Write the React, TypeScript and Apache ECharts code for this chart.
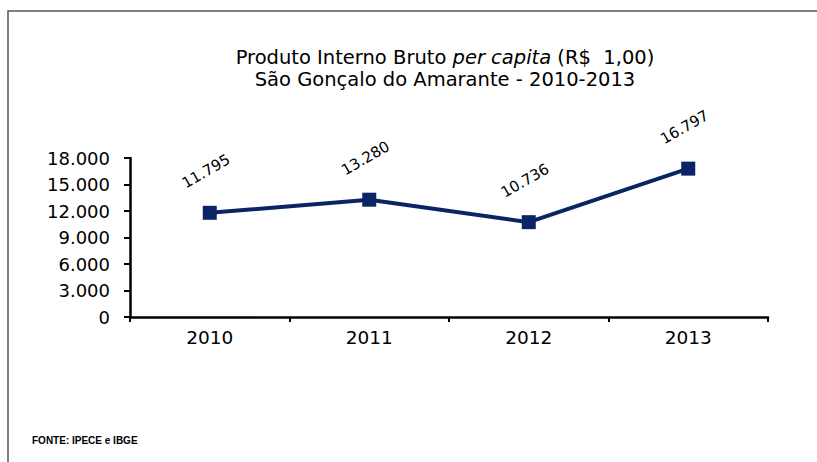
import React, { useEffect, useRef } from "react";
import * as echarts from "echarts";

const years = ["2010", "2011", "2012", "2013"];
const pibPerCapita = [11795, 13280, 10736, 16797];
const yTicks = { min: 0, max: 18000, interval: 3000 };

const fmt = (v: number) => {
  const s = Math.round(v).toString();
  return s.replace(/\B(?=(\d{3})+(?!\d))/g, ".");
};

export default function App() {
  const ref = useRef<HTMLDivElement>(null);
  useEffect(() => {
    document.body.style.margin = "0";
    const chart = echarts.init(ref.current!, null, { renderer: "svg" });
    const font = "'DejaVu Sans', Arial, sans-serif";
    chart.setOption({
      animation: false,
      backgroundColor: "#ffffff",
      title: {
        left: 440,
        top: 41,
        textAlign: "center",
        text: "{n|Produto Interno Bruto }{i|per capita}{n| (R$  1,00)}\n{n|São Gonçalo do Amarante - 2010-2013}",
        textStyle: {
          fontWeight: "normal",
          rich: {
            n: { fontFamily: font, fontSize: 19.5, fontWeight: "normal", color: "#000", lineHeight: 22 },
            i: { fontFamily: font, fontSize: 19.5, fontWeight: "normal", color: "#000", fontStyle: "italic", lineHeight: 22 },
          },
        },
      },
      graphic: [
        {
          type: "polyline",
          shape: { points: [[8, 470], [8, 11], [830, 11]] },
          style: { stroke: "#555555", lineWidth: 1.5, fill: "none" },
        },
        {
          type: "text",
          left: 32,
          top: 435,
          style: {
            text: "FONTE: IPECE e IBGE",
            font: "bold 10px 'Liberation Sans', Arial, sans-serif",
            fill: "#000",
          },
        },
      ],
      grid: { left: 130, right: 49, top: 158, bottom: 145, containLabel: false },
      xAxis: {
        type: "category",
        data: years,
        boundaryGap: true,
        axisLine: { lineStyle: { color: "#000", width: 2.5 } },
        axisTick: { show: true, length: 5, lineStyle: { color: "#000", width: 2 } },
        axisLabel: { color: "#000", fontSize: 18.5, fontFamily: font, margin: 11 },
      },
      yAxis: {
        type: "value",
        min: yTicks.min,
        max: yTicks.max,
        interval: yTicks.interval,
        splitLine: { show: false },
        axisLine: { show: true, lineStyle: { color: "#000", width: 2.5 } },
        axisTick: { show: true, length: 6, lineStyle: { color: "#000", width: 2 } },
        axisLabel: {
          color: "#000",
          fontSize: 18,
          fontFamily: font,
          margin: 20,
          formatter: (v: number) => fmt(v),
        },
      },
      series: [
        {
          type: "line",
          data: pibPerCapita,
          symbol: "rect",
          symbolSize: 14,
          lineStyle: { color: "#0b2466", width: 4 },
          itemStyle: { color: "#0b2466" },
          label: {
            show: true,
            position: "top",
            distance: 28,
            rotate: 30,
            color: "#000",
            fontSize: 15,
            fontFamily: font,
            formatter: (p: any) => fmt(p.value),
          },
        },
      ],
    });
    return () => chart.dispose();
  }, []);
  return <div ref={ref} style={{ width: 817, height: 462 }} />;
}
